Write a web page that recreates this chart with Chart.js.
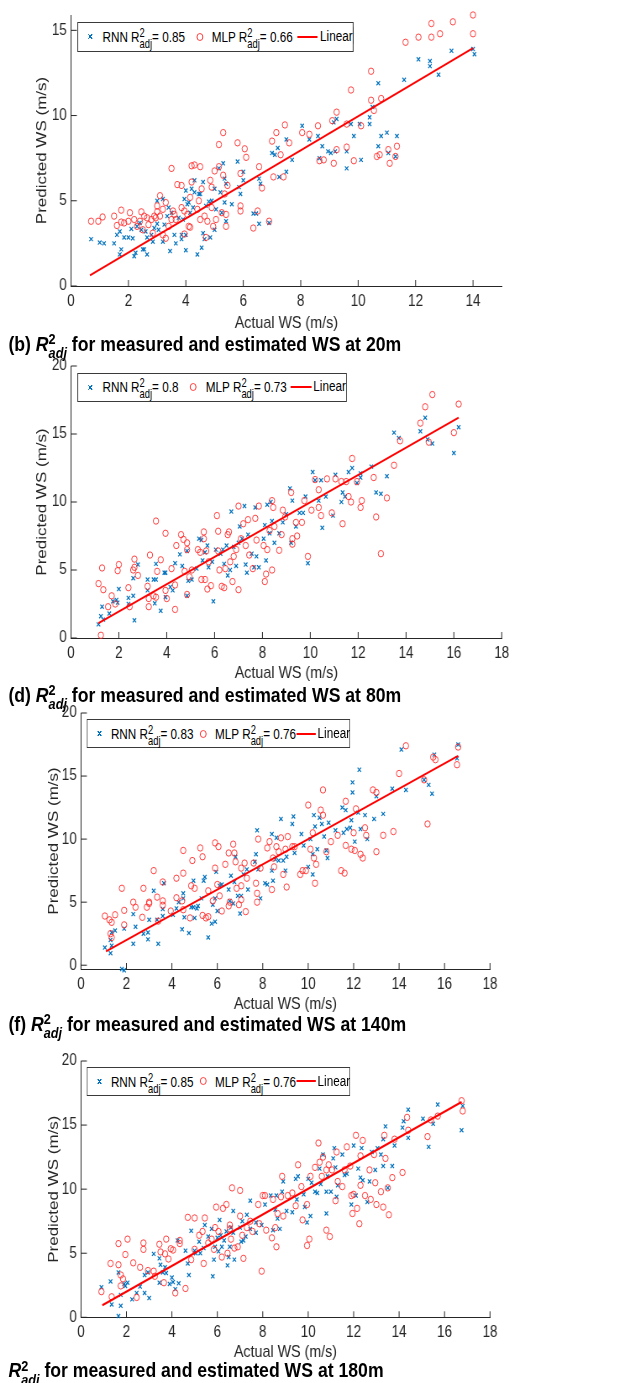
<!DOCTYPE html>
<html lang="en">
<head>
<meta charset="UTF-8" />
<title>R2adj measured vs estimated WS</title>
<script src="https://cdn.jsdelivr.net/npm/chart.js"></script>
<style>
  body { margin: 0; background: #fff; font-family: 'Liberation Sans', Arial, sans-serif; }
  /* the original figure is squeezed horizontally, so the whole page is too */
  #page { position: absolute; left: 0; top: 0; width: 750px; height: 1383px; transform: scaleX(0.84); transform-origin: 0 0; }
  canvas { position: absolute; left: 0; }
  .legend { position: absolute; background: #fff; border: 1px solid #3a3a3a; box-sizing: border-box; font-size: 15.5px; color: #000; }
  .legend .t { position: absolute; top: 4.5px; line-height: 15.5px; white-space: nowrap; transform: scaleX(0.9); transform-origin: 0 50%; }
  .legend .ss { font-size: 0.8em; line-height: 0.9; vertical-align: -0.5em; }
  .ss { display: inline-block; font-size: 0.72em; line-height: 0.95; vertical-align: -0.5em; }
  .ss span { display: block; }
  .mx { position: absolute; width: 5px; height: 5px; margin: -2.5px 0 0 -2.5px;
    background: linear-gradient(45deg, transparent 40%, #0072BD 40%, #0072BD 60%, transparent 60%),
                linear-gradient(-45deg, transparent 40%, #0072BD 40%, #0072BD 60%, transparent 60%); }
  .mo { position: absolute; width: 6px; height: 6px; margin: -4px 0 0 -4px; border: 1px solid #ff3030; border-radius: 50%; }
  .ml { position: absolute; height: 2px; margin-top: -1px; background: #ff0000; }
  .cap { position: absolute; left: 10px; font-weight: bold; font-size: 21px; line-height: 24px; white-space: nowrap; color: #000; }
  .cap i { font-style: italic; }
</style>
</head>
<body>
<div id="page"></div>
<script>
  // ---- data ----
  const heights = ['20m', '80m', '140m', '180m'];
  const captionTags = ['(b) ', '(d) ', '(f) ', ''];
  const r2Rnn = ['0.85', '0.8', '0.83', '0.85'];
  const r2Mlp = ['0.66', '0.73', '0.76', '0.76'];
  const xTicksA = [0, 2, 4, 6, 8, 10, 12, 14];
  const xTicksB = [0, 2, 4, 6, 8, 10, 12, 14, 16, 18];
  const yTicksA = [0, 5, 10, 15];
  const yTicksB = [0, 5, 10, 15, 20];
  const xRanges = [[0, 15], [0, 18], [0, 18], [0, 18]];
  const yRanges = [[0, 15.9], [0, 20], [-0.3, 20], [0, 20]];
  const fitLines = [
    [[0.66, 0.62], [14, 13.96]],
    [[1.15, 1.1], [16.2, 16.2]],
    [[1.1, 1.1], [16.6, 16.6]],
    [[0.94, 0.94], [16.75, 16.8]]
  ];

  const rnn20 = [[0.7,2.75],[1.0,2.55],[1.15,2.5],[1.5,2.5],[1.6,3.0],[1.7,3.2],[1.7,1.85],[1.75,2.15],[1.85,2.85],[2.0,2.85],
    [2.1,3.35],[2.15,2.8],[2.2,1.75],[2.25,1.95],[2.3,3.5],[2.4,3.7],[2.45,3.3],[2.5,2.15],[2.55,2.15],[2.6,3.2],
    [2.65,2.85],[2.65,1.85],[2.8,3.0],[2.85,2.6],[2.9,3.4],[3.0,5.0],[3.0,3.65],[3.05,3.3],[3.2,5.1],[3.2,2.6],
    [3.25,3.6],[3.35,4.1],[3.4,4.6],[3.45,2.05],[3.5,4.3],[3.6,3.0],[3.65,2.5],[3.75,4.0],[3.85,3.0],[3.85,2.75],
    [3.9,3.9],[3.95,5.1],[4.0,5.6],[4.0,2.1],[4.0,3.0],[4.05,4.8],[4.1,4.9],[4.15,4.3],[4.2,5.7],[4.25,4.6],
    [4.3,6.2],[4.3,5.5],[4.4,1.85],[4.45,5.4],[4.5,5.4],[4.6,6.1],[4.55,2.25],[4.6,3.1],[4.65,2.75],[4.7,4.7],
    [4.8,4.95],[4.85,2.85],[4.9,5.0],[5.0,5.7],[5.0,3.3],[5.05,4.5],[5.15,6.9],[5.2,5.5],[5.25,4.3],[5.3,7.2],
    [5.35,6.3],[5.35,4.9],[5.4,3.8],[5.4,6.0],[5.6,4.8],[5.8,7.3],[5.85,5.8],[5.9,5.4],[6.0,6.7],[6.0,6.2],
    [6.35,4.25],[6.45,4.25],[6.55,6.3],[6.55,3.65],[6.6,6.0],[6.9,3.7],[7.0,7.8],[7.1,7.7],[7.2,8.1],[7.25,6.4],
    [7.5,8.6],[7.5,6.7],[7.7,7.4],[8.05,9.4],[8.3,8.6],[8.6,8.8],[8.65,7.5],[8.75,8.2],[8.95,7.9],[9.05,7.8],
    [9.15,9.6],[9.2,7.9],[9.25,9.8],[9.6,7.9],[9.6,6.9],[9.75,9.5],[9.85,8.8],[10.05,9.5],[10.1,7.4],[10.4,9.9],
    [10.4,9.5],[10.5,10.5],[10.7,11.9],[10.7,8.2],[10.8,8.8],[11.0,9.0],[11.05,7.8],[11.3,7.6],[11.35,8.8],[11.6,12.1],
    [12.1,13.3],[12.5,13.2],[12.5,12.9],[12.8,12.4],[13.25,13.8],[14.0,13.9],[14.05,13.6]];
  const mlp20 = [[0.7,3.8],[0.95,3.8],[1.1,4.05],[1.5,4.1],[1.6,3.55],[1.75,4.45],[1.75,3.75],[1.85,3.7],[2.0,3.8],[2.05,4.3],
    [2.2,3.9],[2.3,3.5],[2.4,3.8],[2.45,4.35],[2.5,3.3],[2.55,4.1],[2.65,4.0],[2.7,3.6],[2.8,3.9],[2.85,3.1],
    [2.9,4.1],[2.95,4.0],[3.0,4.7],[3.0,4.35],[3.1,5.3],[3.1,4.1],[3.2,3.0],[3.2,4.5],[3.3,2.8],[3.3,4.9],
    [3.4,3.5],[3.5,6.9],[3.5,3.9],[3.55,4.4],[3.6,4.2],[3.65,3.9],[3.7,5.95],[3.85,5.9],[3.85,4.6],[3.95,4.4],
    [3.95,3.05],[4.05,4.2],[4.1,3.5],[4.15,3.45],[4.15,5.2],[4.2,6.1],[4.2,7.05],[4.3,7.1],[4.4,4.5],[4.45,5.0],
    [4.5,3.9],[4.5,7.0],[4.55,5.7],[4.65,4.1],[4.7,2.85],[4.75,3.8],[4.85,6.2],[4.9,4.6],[4.9,5.8],[4.95,3.5],
    [5.0,6.75],[5.05,3.9],[5.15,7.0],[5.15,8.3],[5.25,4.3],[5.3,9.0],[5.3,6.5],[5.35,5.4],[5.4,3.5],[5.4,4.2],
    [5.45,5.9],[5.8,8.4],[5.9,6.6],[5.9,4.4],[5.9,4.7],[6.05,8.05],[6.1,7.55],[6.35,3.4],[6.5,4.4],[6.55,7.0],
    [6.65,5.75],[6.9,3.8],[7.0,8.5],[7.05,6.4],[7.15,9.0],[7.3,7.7],[7.4,6.4],[7.45,9.45],[7.6,8.4],[8.05,9.0],
    [8.3,8.9],[8.6,9.4],[8.65,7.35],[8.8,7.4],[9.15,7.2],[9.1,9.7],[9.25,10.2],[9.25,8.0],[9.6,8.15],[9.6,9.5],
    [9.75,11.5],[9.85,7.35],[10.1,9.4],[10.45,10.9],[10.45,12.6],[10.55,10.3],[10.65,7.6],[10.75,7.7],[10.8,11.0],[11.05,8.0],
    [11.1,7.2],[11.35,8.2],[11.3,7.6],[11.65,14.3],[12.1,14.6],[12.55,14.6],[12.55,15.4],[12.85,14.8],[13.3,15.5],[14.0,14.8],
    [14.0,15.9]];

  const rnn80 = [[1.15,1.0],[1.25,1.6],[1.3,2.3],[1.35,1.35],[1.6,1.8],[1.75,2.7],[1.9,2.8],[1.95,2.6],[2.0,3.6],[2.4,2.95],
    [2.4,2.5],[2.6,3.1],[2.6,4.4],[2.65,1.3],[2.8,5.4],[3.2,4.3],[3.2,3.5],[3.45,4.3],[3.5,2.55],[3.55,4.3],
    [3.55,5.45],[3.75,2.0],[3.9,4.8],[3.95,4.8],[3.95,3.0],[4.15,3.75],[4.25,3.5],[4.35,5.5],[4.55,6.15],[4.65,5.3],
    [4.85,6.4],[4.85,3.1],[4.9,4.2],[5.05,4.3],[5.25,5.1],[5.35,7.3],[5.45,7.2],[5.5,5.7],[5.6,6.3],[5.7,6.8],
    [5.75,5.2],[5.9,5.6],[5.95,2.7],[6.05,6.5],[6.25,6.2],[6.35,6.5],[6.4,5.45],[6.5,6.8],[6.55,4.6],[6.65,5.0],
    [6.7,9.3],[6.8,6.7],[6.9,5.3],[7.0,7.0],[7.05,8.2],[7.15,7.3],[7.25,9.7],[7.3,5.4],[7.35,4.8],[7.4,7.6],
    [7.55,6.2],[7.65,5.2],[7.7,9.6],[7.75,6.0],[7.85,5.2],[8.05,7.3],[8.1,8.3],[8.15,5.7],[8.2,9.8],[8.3,7.7],
    [8.35,10.0],[8.4,8.6],[8.5,7.0],[8.7,7.7],[8.85,8.5],[9.0,9.1],[9.15,11.0],[9.2,7.0],[9.25,10.1],[9.4,8.2],
    [9.55,9.2],[9.7,9.2],[9.8,10.4],[9.9,5.5],[10.1,12.2],[10.2,11.6],[10.35,10.1],[10.45,11.6],[10.5,8.1],[10.65,10.4],
    [10.95,9.0],[11.05,12.0],[11.3,10.0],[11.35,10.7],[11.45,10.4],[11.6,12.2],[11.75,12.5],[11.95,11.4],[12.1,12.1],[12.1,11.8],
    [12.55,12.6],[12.75,10.7],[12.95,10.6],[13.2,11.9],[13.5,15.1],[13.7,14.7],[14.6,15.2],[14.8,16.2],[14.9,14.6],[15.1,14.3],
    [16.0,13.6],[16.2,15.5]];
  const mlp80 = [[1.15,4.0],[1.25,0.2],[1.3,5.15],[1.35,3.55],[1.55,2.3],[1.7,3.1],[1.85,2.5],[1.95,4.95],[2.0,5.4],[2.4,3.7],
    [2.45,2.3],[2.6,5.0],[2.65,5.8],[2.65,5.2],[2.8,4.6],[3.2,3.8],[3.25,2.9],[3.25,2.3],[3.3,6.1],[3.45,3.1],
    [3.55,3.0],[3.55,8.6],[3.6,4.9],[3.75,5.75],[3.95,7.7],[3.95,3.5],[4.0,2.9],[4.2,5.1],[4.35,3.9],[4.35,2.1],
    [4.4,6.8],[4.6,7.6],[4.7,7.25],[4.75,4.9],[4.85,7.0],[4.85,6.5],[4.85,3.2],[4.95,4.5],[5.05,5.0],[5.3,6.5],
    [5.4,6.3],[5.45,4.3],[5.55,7.3],[5.55,7.8],[5.6,4.3],[5.65,6.4],[5.7,3.6],[5.75,5.6],[5.85,3.85],[6.1,9.0],
    [6.15,7.85],[6.15,6.4],[6.2,5.0],[6.3,3.8],[6.4,3.7],[6.45,5.1],[6.55,7.6],[6.6,7.8],[6.65,5.6],[6.75,4.15],
    [6.8,6.0],[6.9,6.5],[7.0,9.7],[7.0,3.55],[7.1,7.3],[7.2,8.4],[7.3,6.8],[7.4,8.7],[7.45,6.1],[7.6,5.1],
    [7.7,8.8],[7.75,7.2],[7.85,9.7],[8.05,6.8],[8.1,4.15],[8.15,4.7],[8.2,6.5],[8.3,7.9],[8.4,5.0],[8.4,10.1],
    [8.45,9.6],[8.5,8.2],[8.7,6.45],[8.8,7.6],[8.85,9.4],[8.95,8.9],[9.2,10.7],[9.25,7.3],[9.25,6.9],[9.4,8.5],
    [9.45,7.5],[9.65,8.5],[9.75,10.1],[9.9,6.0],[10.05,9.4],[10.2,11.65],[10.35,10.9],[10.35,9.6],[10.45,9.0],[10.7,11.7],
    [10.9,9.2],[11.05,11.7],[11.3,11.5],[11.35,8.4],[11.5,11.5],[11.6,10.4],[11.7,10.0],[11.75,13.2],[11.95,11.5],[12.1,9.6],
    [12.15,10.1],[12.65,11.8],[12.75,8.9],[12.95,6.2],[13.2,10.3],[13.5,12.7],[13.75,14.5],[14.6,15.8],[14.8,17.0],[14.95,14.4],
    [15.1,17.9],[16.0,15.1],[16.2,17.2]];

  const rnn140 = [[1.05,1.4],[1.3,2.0],[1.3,0.95],[1.35,1.55],[1.35,2.6],[1.5,2.75],[1.8,-0.3],[1.9,-0.4],[1.9,2.9],[2.3,4.05],
    [2.3,1.7],[2.4,3.05],[2.75,2.5],[2.95,2.6],[2.95,2.05],[3.0,3.6],[3.2,5.9],[3.35,3.6],[3.4,1.7],[3.6,4.45],
    [3.6,3.9],[3.65,6.5],[4.05,4.0],[4.2,4.5],[4.3,5.0],[4.45,2.85],[4.5,5.7],[4.5,5.3],[4.55,3.8],[4.75,2.55],
    [4.85,4.6],[4.95,4.6],[4.95,6.7],[5.0,3.75],[5.1,4.5],[5.15,4.7],[5.3,5.3],[5.4,6.7],[5.45,7.0],[5.6,2.2],
    [5.75,3.3],[5.8,4.8],[5.9,5.3],[5.9,3.45],[5.95,7.4],[6.0,4.3],[6.1,6.3],[6.2,6.4],[6.5,6.0],[6.55,5.1],
    [6.6,7.1],[6.7,4.9],[6.75,6.6],[6.8,8.6],[6.9,5.5],[7.0,4.1],[7.05,5.5],[7.15,7.2],[7.3,7.6],[7.35,6.0],
    [7.65,8.2],[7.7,8.8],[7.75,10.7],[7.8,7.6],[7.9,5.3],[8.1,6.5],[8.2,6.4],[8.4,7.5],[8.45,6.7],[8.4,10.4],
    [8.55,8.4],[8.6,10.1],[8.7,8.3],[8.8,11.6],[8.9,8.3],[9.0,7.5],[9.05,8.6],[9.3,11.2],[9.35,11.8],[9.4,8.9],
    [9.7,10.4],[9.8,9.5],[10.0,7.8],[10.1,10.0],[10.2,8.8],[10.2,7.2],[10.25,11.9],[10.3,11.0],[10.4,9.2],[10.5,11.7],
    [10.6,11.2],[10.7,10.2],[10.8,9.1],[10.85,8.5],[10.9,11.3],[11.2,10.7],[11.5,12.5],[11.55,10.5],[11.65,12.3],[11.7,10.8],
    [11.85,10.9],[11.9,11.5],[11.95,14.5],[11.95,13.7],[12.05,9.8],[12.2,12.1],[12.25,15.5],[12.3,10.8],[12.5,11.9],[12.6,10.0],
    [12.9,11.6],[13.0,13.4],[13.3,12.0],[13.7,14.0],[14.1,17.1],[14.3,13.9],[15.1,14.7],[15.3,14.3],[15.45,13.6],[15.55,16.7],
    [16.55,16.4],[16.6,17.5]];
  const mlp140 = [[1.05,3.9],[1.25,3.6],[1.3,2.5],[1.35,3.4],[1.35,2.2],[1.5,4.0],[1.8,6.1],[1.9,4.35],[1.9,3.2],[2.3,5.0],
    [2.4,4.6],[2.7,3.8],[2.75,6.1],[2.9,4.6],[3.0,5.0],[3.0,4.9],[3.2,7.5],[3.35,5.4],[3.4,3.5],[3.6,6.6],
    [3.6,5.1],[3.6,4.75],[3.95,4.3],[4.2,5.35],[4.2,6.9],[4.45,5.1],[4.5,7.3],[4.5,9.1],[4.5,4.4],[4.8,3.75],
    [4.85,6.3],[4.9,8.3],[5.0,6.1],[5.25,9.3],[5.35,8.6],[5.35,3.95],[5.5,3.75],[5.6,5.9],[5.6,3.85],[5.8,5.1],
    [5.9,7.7],[5.9,9.7],[6.0,6.4],[6.05,9.4],[6.1,5.5],[6.2,4.3],[6.35,8.0],[6.5,8.9],[6.5,4.7],[6.55,5.0],
    [6.7,9.6],[6.75,8.9],[6.8,8.2],[6.85,6.1],[6.95,4.8],[7.05,7.7],[7.05,5.2],[7.05,6.3],[7.2,8.1],[7.25,4.25],
    [7.3,6.9],[7.6,8.1],[7.7,6.5],[7.75,5.0],[7.75,5.7],[7.8,10.0],[7.9,7.7],[8.2,9.3],[8.3,9.8],[8.4,6.0],
    [8.45,8.5],[8.5,7.8],[8.6,9.4],[8.7,9.0],[8.8,10.1],[8.9,7.2],[9.0,9.2],[9.05,6.2],[9.1,10.2],[9.3,9.4],
    [9.4,9.4],[9.65,7.2],[9.75,7.5],[9.9,7.5],[10.0,12.7],[10.1,9.2],[10.2,10.5],[10.25,8.5],[10.3,6.5],[10.35,8.0],
    [10.55,12.3],[10.65,11.9],[10.65,13.9],[10.8,9.0],[11.0,9.8],[11.3,10.3],[11.45,7.5],[11.6,7.3],[11.65,9.5],[11.65,13.0],
    [11.9,9.2],[12.0,10.5],[12.05,9.1],[12.1,12.4],[12.3,8.8],[12.4,8.5],[12.5,10.9],[12.55,10.3],[12.85,13.9],[13.0,13.7],
    [13.0,9.0],[13.3,10.3],[13.75,10.6],[14.0,15.2],[14.3,17.4],[15.1,14.7],[15.25,11.2],[15.5,16.5],[15.6,16.3],[16.55,15.9],
    [16.6,17.3]];

  const rnn180 = [[0.9,2.35],[1.3,2.8],[1.35,1.0],[1.65,0.1],[1.65,3.5],[1.75,0.9],[1.75,1.75],[1.9,2.6],[1.95,2.45],[2.05,2.7],
    [2.25,1.4],[2.45,1.9],[2.6,2.4],[2.8,3.3],[2.8,1.9],[2.95,3.5],[3.0,1.5],[3.2,4.95],[3.45,4.6],[3.45,2.7],
    [3.5,4.1],[3.6,3.5],[3.7,3.9],[3.75,3.45],[3.9,2.6],[4.0,3.1],[4.05,2.75],[4.15,2.2],[4.25,6.0],[4.3,2.65],
    [4.6,5.2],[4.7,4.2],[4.75,3.3],[4.85,6.75],[5.0,5.2],[5.05,5.0],[5.2,5.9],[5.25,5.0],[5.4,5.4],[5.45,7.2],
    [5.6,6.3],[5.75,6.9],[5.8,3.2],[5.85,4.5],[5.9,5.5],[6.0,6.2],[6.05,5.15],[6.1,7.6],[6.15,6.4],[6.2,5.5],
    [6.3,6.0],[6.4,6.7],[6.45,4.05],[6.5,4.7],[6.55,5.5],[6.6,7.0],[6.7,6.6],[6.75,4.5],[6.7,8.3],[7.0,7.0],
    [7.05,5.9],[7.1,7.5],[7.15,6.0],[7.25,6.3],[7.3,8.0],[7.45,9.1],[7.45,6.9],[7.7,7.4],[7.7,6.6],[7.95,7.2],
    [8.1,8.8],[8.35,9.5],[8.45,6.8],[8.55,8.4],[8.6,9.5],[8.65,7.7],[8.75,6.9],[8.85,9.8],[8.9,10.6],[9.05,8.3],
    [9.3,8.2],[9.45,10.8],[9.5,9.2],[9.55,11.0],[9.8,9.6],[9.85,8.6],[9.95,7.4],[10.0,10.8],[10.1,7.9],[10.15,10.5],
    [10.3,9.8],[10.4,9.7],[10.5,11.6],[10.55,10.4],[10.65,12.7],[10.8,9.8],[10.8,8.1],[10.85,11.0],[11.0,9.8],[11.1,12.4],
    [11.15,13.2],[11.2,11.7],[11.25,9.4],[11.3,10.3],[11.5,12.7],[11.6,11.1],[11.7,11.2],[11.9,8.8],[12.0,13.4],[12.1,9.5],
    [12.2,11.6],[12.3,10.9],[12.35,13.2],[12.4,10.7],[12.6,9.0],[12.7,10.6],[12.8,12.9],[12.95,11.5],[13.05,13.2],[13.2,12.7],
    [13.3,13.9],[13.3,11.8],[13.4,14.9],[13.5,10.1],[13.7,11.8],[13.8,13.4],[14.15,14.8],[14.2,15.3],[14.4,16.2],[14.4,14.0],
    [15.05,15.5],[15.3,13.3],[15.5,15.1],[15.7,16.6],[16.75,14.6],[16.8,16.5]];
  const mlp180 = [[0.9,2.0],[1.3,4.2],[1.35,1.6],[1.65,5.75],[1.65,4.1],[1.75,3.3],[1.75,2.45],[1.85,3.0],[1.95,4.9],[2.05,6.1],
    [2.3,4.25],[2.45,1.55],[2.6,3.9],[2.75,5.8],[2.75,5.3],[2.95,3.65],[3.2,3.6],[3.25,3.2],[3.45,5.7],[3.5,5.1],
    [3.65,2.7],[3.7,4.95],[3.75,6.1],[3.85,4.55],[3.95,5.35],[4.05,5.25],[4.15,1.9],[4.35,6.0],[4.35,5.75],[4.6,2.25],
    [4.7,7.8],[4.85,4.5],[5.0,7.75],[5.0,5.3],[5.2,6.4],[5.35,6.7],[5.45,7.75],[5.4,4.2],[5.6,5.8],[5.75,6.1],
    [5.85,5.3],[5.9,7.0],[5.95,8.6],[6.05,6.7],[6.2,4.7],[6.25,8.5],[6.4,8.8],[6.45,5.0],[6.55,6.9],[6.55,7.2],
    [6.6,6.1],[6.65,10.1],[6.75,5.4],[6.9,5.5],[7.0,9.9],[7.0,7.9],[7.1,6.4],[7.15,4.6],[7.3,7.0],[7.45,7.5],
    [7.55,6.7],[7.8,8.8],[7.85,7.3],[7.95,3.6],[8.0,9.5],[8.1,9.5],[8.15,6.8],[8.4,6.2],[8.45,9.2],[8.55,7.0],
    [8.6,5.5],[8.65,8.1],[8.8,9.4],[8.85,11.0],[8.9,7.9],[9.1,9.5],[9.3,9.7],[9.45,8.7],[9.55,11.9],[9.7,10.2],
    [9.75,7.6],[9.95,8.8],[9.95,5.6],[10.05,6.1],[10.1,11.0],[10.3,11.7],[10.45,13.6],[10.5,12.1],[10.6,11.0],[10.65,12.5],
    [10.8,11.5],[10.8,6.8],[10.9,11.9],[10.95,6.3],[11.05,11.5],[11.2,9.1],[11.25,12.9],[11.3,10.6],[11.5,10.2],[11.6,11.5],
    [11.7,13.3],[11.85,11.8],[11.9,9.5],[11.95,8.1],[12.0,9.6],[12.1,14.2],[12.15,8.5],[12.25,7.3],[12.3,12.6],[12.3,10.3],
    [12.4,13.8],[12.5,9.5],[12.7,11.5],[12.75,9.2],[12.9,12.7],[12.95,10.5],[13.0,8.8],[13.2,9.8],[13.3,8.6],[13.35,14.2],
    [13.4,12.4],[13.5,10.1],[13.55,8.0],[13.7,10.9],[13.8,13.9],[14.15,11.3],[14.35,15.6],[14.4,14.6],[15.25,14.1],[15.4,15.4],
    [15.7,15.7],[16.75,16.9],[16.8,16.1]];

  const rnnSets = [rnn20, rnn80, rnn140, rnn180];
  const mlpSets = [mlp20, mlp80, mlp140, mlp180];
  const xTickSets = [xTicksA, xTicksB, xTicksB, xTicksB];
  const yTickSets = [yTicksA, yTicksB, yTicksB, yTicksB];

  // ---- layout (page y in px, x in the unsqueezed page units) ----
  const frames = [
    { top: 15, bottom: 286, left: 84.5, right: 597.3, yw: 43.9, xh: 47.2, pad: 6.4, capTop: 331.7,
      leg: { x: 91.7, y: 22, w: 329.8, h: 29.7, mx: 14.6, t1: 29.4, mo: 145.2, t2: 159.2, l1: 261.5, l2: 285.4, t3: 288 } },
    { top: 365.7, bottom: 637.7, left: 84.5, right: 597.3, yw: 43.9, xh: 45.5, pad: 6, capTop: 682.7,
      leg: { x: 91.7, y: 372.7, w: 321.8, h: 29.6, mx: 14.6, t1: 29.4, mo: 137.3, t2: 152.4, l1: 253.6, l2: 278.2, t3: 280.6 } },
    { top: 713.3, bottom: 969.3, left: 96.4, right: 583.3, yw: 42, xh: 45.9, pad: 6, capTop: 1011.7,
      leg: { x: 103.2, y: 719.3, w: 313.5, h: 29, mx: 14.3, t1: 27.7, mo: 138.1, t2: 151.5, l1: 249.2, l2: 271.8, t3: 273.8 } },
    { top: 1061, bottom: 1317.3, left: 96.4, right: 583.3, yw: 42, xh: 44.9, pad: 6, capTop: 1358.4,
      leg: { x: 103.2, y: 1067.3, w: 313.5, h: 28.4, mx: 14.3, t1: 27.7, mo: 138.1, t2: 151.5, l1: 249.2, l2: 271.8, t3: 273.8 } }
  ];

  const axisColor = '#262626';
  Chart.defaults.font.family = "'Liberation Sans', Arial, sans-serif";
  Chart.defaults.color = axisColor;

  // MATLAB style tick marks pointing into the plot
  const inwardTicks = {
    id: 'inwardTicks',
    afterDraw(chart) {
      const { ctx, chartArea: a, scales: { x, y } } = chart;
      ctx.save();
      ctx.strokeStyle = axisColor;
      ctx.lineWidth = 1;
      ctx.beginPath();
      x.ticks.forEach(t => { const p = x.getPixelForValue(t.value); ctx.moveTo(p, a.bottom); ctx.lineTo(p, a.bottom - 6); });
      y.ticks.forEach(t => { const p = y.getPixelForValue(t.value); ctx.moveTo(a.left, p); ctx.lineTo(a.left + 7, p); });
      ctx.stroke();
      ctx.restore();
    }
  };

  const page = document.getElementById('page');
  const r2 = '<span class="ss"><span>2</span><span>adj</span></span>';

  frames.forEach((f, i) => {
    const canvasTop = f.top - 15;
    const inner = f.bottom - canvasTop;
    const H = Math.ceil(inner + f.xh + 4);
    const canvas = document.createElement('canvas');
    canvas.width = 750;
    canvas.height = H;
    canvas.style.top = canvasTop + 'px';
    page.appendChild(canvas);

    const toPts = arr => arr.map(p => ({ x: p[0], y: p[1] }));
    new Chart(canvas, {
      type: 'scatter',
      data: {
        datasets: [
          { label: 'Linear', data: toPts(fitLines[i]), showLine: true, borderColor: '#ff0000', borderWidth: 2,
            pointRadius: 0, order: 0 },
          { label: 'MLP', data: toPts(mlpSets[i]), pointStyle: 'circle', pointRadius: 3.2, borderWidth: 0.9,
            borderColor: '#ff2a2a', backgroundColor: 'rgba(0,0,0,0)', clip: false, order: 1 },
          { label: 'RNN', data: toPts(rnnSets[i]), pointStyle: 'crossRot', pointRadius: 2.9, borderWidth: 1.2,
            borderColor: '#0072BD', clip: false, order: 2 }
        ]
      },
      options: {
        responsive: false,
        animation: false,
        events: [],
        layout: { padding: { left: f.left - f.yw, right: 750 - f.right, top: 15, bottom: H - f.xh - inner } },
        plugins: { legend: { display: false }, tooltip: { enabled: false } },
        scales: {
          x: {
            type: 'linear', min: xRanges[i][0], max: xRanges[i][1],
            afterBuildTicks: s => { s.ticks = xTickSets[i].map(v => ({ value: v })); },
            afterFit: s => { s.height = f.xh; },
            grid: { display: false, drawTicks: false },
            border: { display: true, color: axisColor, width: 1 },
            ticks: { padding: f.pad, font: { size: 16 }, color: axisColor, maxRotation: 0 },
            title: { display: true, text: 'Actual WS (m/s)', font: { size: 17 }, color: axisColor, padding: 0 }
          },
          y: {
            type: 'linear', min: yRanges[i][0], max: yRanges[i][1],
            afterBuildTicks: s => { s.ticks = yTickSets[i].map(v => ({ value: v })); },
            afterFit: s => { s.width = f.yw; },
            grid: { display: false, drawTicks: false },
            border: { display: true, color: axisColor, width: 1 },
            ticks: { padding: 5, font: { size: 16 }, color: axisColor },
            title: { display: true, text: 'Predicted WS (m/s)', font: { size: 17 }, color: axisColor, padding: 0 }
          }
        }
      },
      plugins: [inwardTicks]
    });

    // legend box (html so the sub/superscripts stay real text)
    const L = f.leg;
    const leg = document.createElement('div');
    leg.className = 'legend';
    Object.assign(leg.style, { left: L.x + 'px', top: L.y + 'px', width: L.w + 'px', height: L.h + 'px' });
    const cy = L.h / 2 - 1;
    leg.innerHTML =
      `<span class="mx" style="left:${L.mx}px;top:${cy}px"></span>` +
      `<span class="t" style="left:${L.t1}px">RNN R${r2}= ${r2Rnn[i]}</span>` +
      `<span class="mo" style="left:${L.mo}px;top:${cy}px"></span>` +
      `<span class="t" style="left:${L.t2}px">MLP R${r2}= ${r2Mlp[i]}</span>` +
      `<span class="ml" style="left:${L.l1}px;width:${L.l2 - L.l1}px;top:${cy}px"></span>` +
      `<span class="t" style="left:${L.t3}px">Linear</span>`;
    page.appendChild(leg);

    // caption under each panel
    const cap = document.createElement('div');
    cap.className = 'cap';
    cap.style.top = f.capTop + 'px';
    cap.innerHTML = `${captionTags[i]}<i>R</i><span class="ss"><span>2</span><span><i>adj</i></span></span> for measured and estimated WS at ${heights[i]}`;
    page.appendChild(cap);
  });
</script>
</body>
</html>
